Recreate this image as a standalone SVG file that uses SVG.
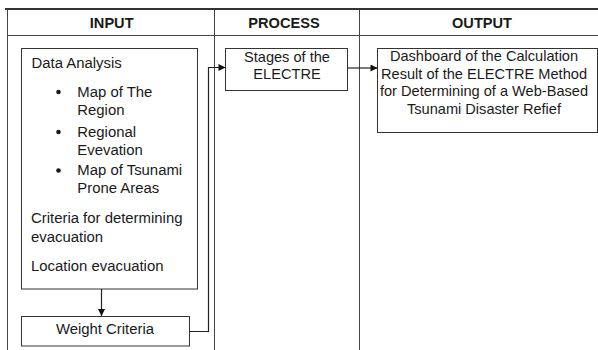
<svg xmlns="http://www.w3.org/2000/svg" width="598" height="350" viewBox="0 0 598 350">
<defs>
<style>
text{font-family:"Liberation Sans",Arial,sans-serif;font-size:14.9px;fill:#1a1a1a}
.h{font-weight:bold;font-size:14.6px;text-anchor:middle}
.c{text-anchor:middle}
.o{font-size:14.6px}
.box{fill:#fff;stroke:#333;stroke-width:1}
.grid{stroke:#444;stroke-width:1;fill:none}
.conn{stroke:#222;stroke-width:1.2;fill:none}
</style>
<marker id="ah" viewBox="0 0 10 10" refX="10" refY="5" markerWidth="8" markerHeight="7" markerUnits="userSpaceOnUse" orient="auto">
<path d="M0,0 L10,5 L0,10 z" fill="#111"/>
</marker>
</defs>
<rect width="598" height="350" fill="#fff"/>
<g id="table">
<line x1="5" y1="9" x2="598" y2="9" stroke="#333" stroke-width="2"/>
<line class="grid" x1="7" y1="35.5" x2="598" y2="35.5"/>
<line class="grid" x1="7.5" y1="9" x2="7.5" y2="350"/>
<line class="grid" x1="214.5" y1="9" x2="214.5" y2="350" stroke="#888"/>
<line class="grid" x1="359.5" y1="9" x2="359.5" y2="350"/>
<text class="h" x="111.7" y="28.3">INPUT</text>
<text class="h" x="284" y="28.3">PROCESS</text>
<text class="h" x="482" y="28.3">OUTPUT</text>
</g>
<g id="data-analysis">
<rect class="box" x="21.5" y="48.5" width="176" height="240.5"/>
<text x="31.5" y="68.3">Data Analysis</text>
<circle cx="58.5" cy="92" r="2.3" fill="#1a1a1a"/>
<text x="77.3" y="96.7">Map of The</text>
<text x="77.3" y="115">Region</text>
<circle cx="58.5" cy="132" r="2.3" fill="#1a1a1a"/>
<text x="77.3" y="136.7">Regional</text>
<text x="77.3" y="155">Evevation</text>
<circle cx="58.5" cy="170.5" r="2.3" fill="#1a1a1a"/>
<text x="77.3" y="175">Map of Tsunami</text>
<text x="77.3" y="193.3">Prone Areas</text>
<text x="31" y="223.3">Criteria for determining</text>
<text x="31" y="241.7">evacuation</text>
<text x="31" y="270.7">Location evacuation</text>
</g>
<g id="weight-criteria">
<rect class="box" x="21.5" y="316.5" width="168" height="29.5"/>
<text class="c" x="105" y="334">Weight Criteria</text>
</g>
<g id="stages">
<rect class="box" x="225.5" y="48.5" width="122" height="42"/>
<text class="c o" x="287" y="62">Stages of the</text>
<text class="c o" x="287" y="79">ELECTRE</text>
</g>
<g id="dashboard">
<rect class="box" x="377.5" y="48.5" width="220" height="84"/>
<text class="c o" x="484" y="61">Dashboard of the Calculation</text>
<text class="c o" x="484" y="78.5">Result of the ELECTRE Method</text>
<text class="c o" x="484" y="96">for Determining of a Web-Based</text>
<text class="c o" x="484" y="113.5">Tsunami Disaster Refief</text>
</g>
<g id="connectors">
<line class="conn" x1="101.5" y1="289" x2="101.5" y2="316" marker-end="url(#ah)"/>
<polyline class="conn" points="189.5,331.5 208.5,331.5 208.5,67.5 225.5,67.5" stroke="#555" marker-end="url(#ah)"/>
<line class="conn" x1="347.5" y1="68" x2="377.5" y2="68" marker-end="url(#ah)"/>
</g>
</svg>
